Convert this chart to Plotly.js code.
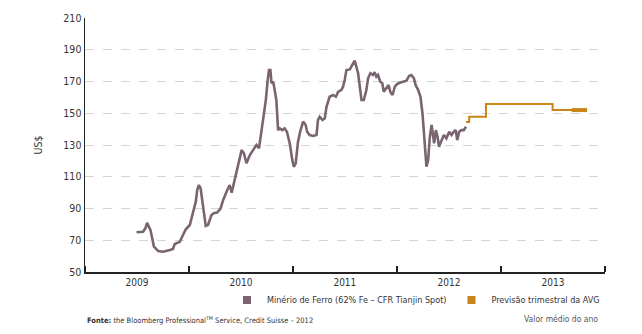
<!DOCTYPE html>
<html>
<head>
<meta charset="utf-8">
<script src="https://cdn.plot.ly/plotly-3.0.1.min.js"></script>
<style>html,body{margin:0;padding:0;background:#fff;}#chart{width:642px;height:334px;}</style>
</head>
<body>
<div id="chart"></div>
<script>
// Iron ore spot price (decimal years, US$)
const oreYears = [2009.497,2009.529,2009.561,2009.582,2009.599,2009.632,2009.664,2009.705,2009.753,2009.817,2009.849,2009.865,2009.914,2009.945,2009.971,
2010.010,2010.041,2010.067,2010.080,2010.096,2010.113,2010.132,2010.164,2010.186,2010.218,2010.240,2010.272,2010.305,2010.330,2010.363,2010.394,2010.411,2010.433,2010.459,2010.474,2010.507,2010.529,2010.555,2010.587,2010.618,2010.651,2010.676,2010.699,2010.721,2010.740,2010.757,2010.772,2010.786,2010.795,2010.811,2010.827,2010.843,2010.859,2010.875,2010.901,2010.923,2010.945,2010.971,2010.997,
2011.010,2011.029,2011.051,2011.074,2011.099,2011.125,2011.138,2011.164,2011.195,2011.228,2011.243,2011.260,2011.286,2011.308,2011.324,2011.356,2011.388,2011.414,2011.436,2011.468,2011.484,2011.500,2011.516,2011.548,2011.574,2011.596,2011.613,2011.628,2011.644,2011.661,2011.683,2011.709,2011.724,2011.747,2011.772,2011.789,2011.805,2011.820,2011.843,2011.863,2011.875,2011.901,2011.923,2011.939,2011.959,2011.981,
2012.003,2012.029,2012.061,2012.093,2012.118,2012.141,2012.164,2012.183,2012.205,2012.228,2012.247,2012.260,2012.272,2012.286,2012.301,2012.317,2012.334,2012.349,2012.359,2012.375,2012.391,2012.407,2012.430,2012.452,2012.478,2012.503,2012.526,2012.548,2012.567,2012.580,2012.599,2012.622,2012.644,2012.664];
const orePrice = [75,75.2,75.4,77.5,81,76.4,66,63.2,62.8,63.8,64.5,67.6,69,73.3,76.9,
79.6,87,94.3,101.6,104.8,102.7,93.3,79,79.6,85.9,87,87.4,90,95.3,100.6,104.8,99.9,105.8,112,117.4,126.8,124.8,118.5,123.7,126.8,130,127.9,139.4,147.8,158.3,169.9,177.2,177.2,168.9,169.9,164.6,158.3,139.4,140.5,139.4,140.5,138.4,131,120.5,
116.3,118.5,132.1,139.4,144.7,142.6,138.4,136.3,135.7,136.3,145.7,147.8,145.7,146.8,154.1,160.4,161.5,160.4,163.6,164.6,166.7,170.9,177.2,177.6,180.4,183.1,179.3,175.2,166.7,158.3,158.3,164.6,172,175.2,174.1,175.8,173,174.1,169.9,168.9,163.6,165.7,167.8,163.6,161.5,166.7,
168.4,169.2,169.9,170.5,173.5,174.1,172,167.8,164.6,160.4,150,139.4,126.8,116.3,120.5,135.2,142.6,135.2,131,139.4,135.2,128.9,133.1,136.3,134.2,138.4,136.3,138.4,139.4,133.1,138.4,139.4,139.4,141.5];

// AVG quarterly forecast
const fcYears = [2012.664,2012.695,2012.856,2013.497,2013.830];
const fcPrice = [144.5,147.8,155.8,152,152];
// annual average segment
const avgYears = [2013.680,2013.830];
const avgPrice = [152,152];

const yTicks = [50,70,90,110,130,150,170,190,210];

function toDate(y){
  const yr = Math.floor(y), f = y - yr;
  const s = Date.UTC(yr,0,1), e = Date.UTC(yr+1,0,1);
  return new Date(s + f*(e-s)).toISOString().slice(0,10);
}

const purple = '#7a6470';
const orange = '#c98519';
const FONT = '"DejaVu Sans Condensed","Liberation Sans",Arial,sans-serif';

const traces = [
  {x: oreYears.map(toDate), y: orePrice, type:'scatter', mode:'lines',
   line:{color:purple, width:2.6}, showlegend:false, hoverinfo:'skip'},
  {x: fcYears.map(toDate), y: fcPrice, type:'scatter', mode:'lines',
   line:{color:orange, width:2, shape:'hv'}, showlegend:false},
  {x: avgYears.map(toDate), y: avgPrice, type:'scatter', mode:'lines',
   line:{color:orange, width:4}, showlegend:false},
  {x:[null], y:[null], type:'scatter', mode:'markers', name:'Minério de Ferro (62% Fe – CFR Tianjin Spot)',
   marker:{symbol:'square', size:8, color:purple}},
  {x:[null], y:[null], type:'scatter', mode:'markers', name:'Previsão trimestral da AVG',
   marker:{symbol:'square', size:8, color:orange}}
];

const layout = {
  width:642, height:334,
  margin:{l:85, r:37, t:18, b:62},
  paper_bgcolor:'#ffffff', plot_bgcolor:'#ffffff',
  font:{family:FONT, size:10, color:'#333'},
  xaxis:{type:'date', range:['2009-01-01','2014-01-01'], dtick:'M12', tick0:'2009-01-01',
    ticklabelmode:'period', tickformat:'%Y', ticks:'inside', ticklen:6, tickwidth:1.5, tickcolor:'#222',
    showline:true, linecolor:'#222', linewidth:1.5, showgrid:false, zeroline:false,
    tickfont:{size:10, color:'#333'}},
  yaxis:{range:[50,210], tickvals:yTicks, showline:true, linecolor:'#222', linewidth:1.5,
    showgrid:true, gridcolor:'#d4d4d4', griddash:'dash', gridwidth:1, zeroline:false,
    ticks:'', tickfont:{size:10.5, color:'#333'},
    title:{text:'US$', font:{size:10.5, color:'#333'}, standoff:18}},
  legend:{orientation:'h', x:1, xanchor:'right', y:-0.11, yanchor:'middle',
    font:{size:9, color:'#333'}, itemwidth:30, traceorder:'normal', bgcolor:'rgba(0,0,0,0)'},
  annotations:[
    {text:'<b>Fonte:</b> the Bloomberg Professional<sup>TM</sup> Service, Credit Suisse – 2012',
     xref:'paper', yref:'paper', x:0, xanchor:'left', y:-0.19, yanchor:'middle', showarrow:false,
     font:{size:7.5, color:'#333', family:FONT}},
    {text:'Valor médio do ano', xref:'paper', yref:'paper', x:0.99, xanchor:'right', y:-0.185, yanchor:'middle',
     showarrow:false, font:{size:8.5, color:'#555', family:FONT}}
  ]
};

Plotly.newPlot('chart', traces, layout, {displayModeBar:false, staticPlot:true});
</script>
</body>
</html>
